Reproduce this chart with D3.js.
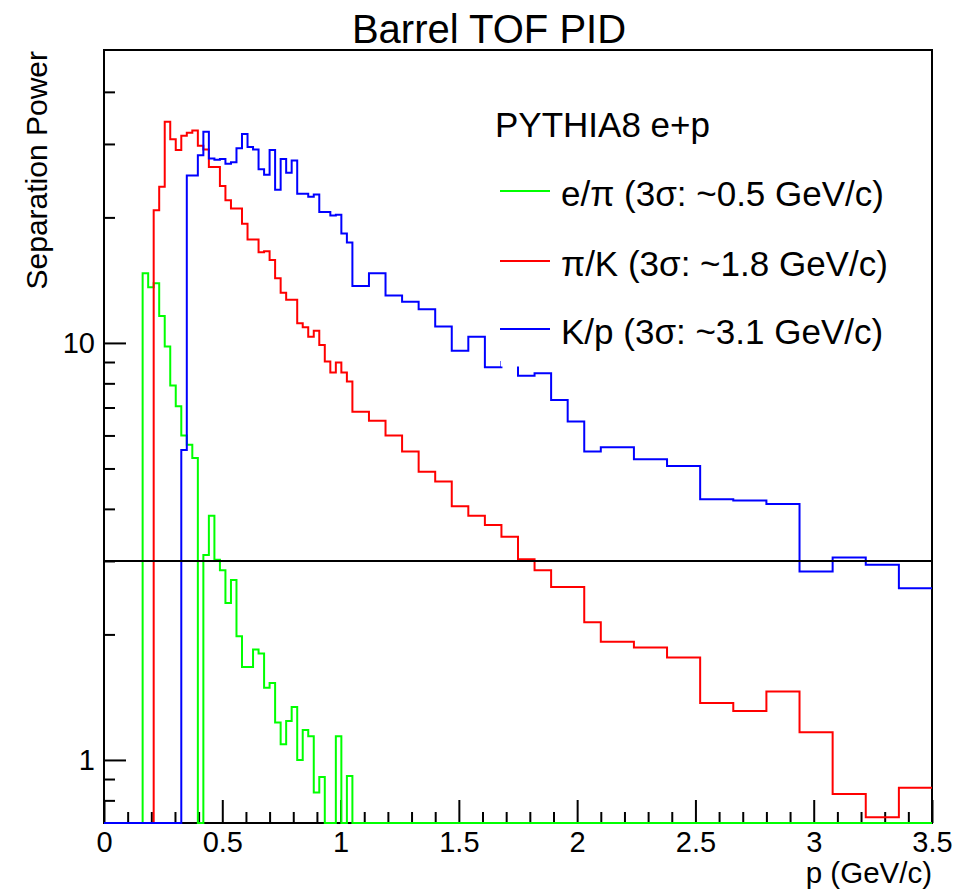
<!DOCTYPE html>
<html>
<head>
<meta charset="utf-8">
<script src="https://cdn.jsdelivr.net/npm/d3@7"></script>
<style>
  html, body { margin: 0; padding: 0; background: #fff; }
  svg { display: block; font-family: "Liberation Sans", Arial, Helvetica, sans-serif; }
</style>
</head>
<body>
<svg id="chart" width="958" height="892"></svg>
<script>
// ---- data ----
const binEdges = [
  0, 0.0233, 0.0467, 0.07, 0.0933, 0.1167, 0.14, 0.1633, 0.1867, 0.21,
  0.2333, 0.2567, 0.28, 0.3033, 0.3267, 0.35, 0.3733, 0.3967, 0.42, 0.4433,
  0.4667, 0.49, 0.5133, 0.5367, 0.56, 0.5833, 0.6067, 0.63, 0.6533, 0.6767,
  0.7, 0.7233, 0.7467, 0.77, 0.7933, 0.8167, 0.84, 0.8633, 0.8867, 0.91,
  0.9333, 0.9567, 0.98, 1.0033, 1.0267, 1.05,
  1.12, 1.19, 1.26, 1.33, 1.40, 1.47, 1.54, 1.61, 1.68, 1.75, 1.82, 1.89, 1.96, 2.03, 2.10,
  2.24, 2.38, 2.52, 2.66, 2.80, 2.94, 3.08, 3.22, 3.36, 3.50
];

const ePiValues = [
  0, 0, 0, 0, 0, 0, 0, 14.7, 13.6, 13.9,
  11.6, 9.8, 7.9, 7.05, 6.0, 5.7, 5.3, 0, 3.1, 3.85,
  3.02, 2.85, 2.38, 2.70, 1.98, 1.67, 1.67, 1.84, 1.80, 1.49,
  1.53, 1.23, 1.09, 1.24, 1.34, 1.0, 1.18, 1.14, 0.835, 0.91,
  0, 0, 1.14, 0, 0.915,
  0, 0, 0, 0, 0, 0, 0, 0, 0, 0, 0, 0, 0, 0, 0,
  0, 0, 0, 0, 0, 0, 0, 0, 0, 0
];

const piKValues = [
  0, 0, 0, 0, 0, 0, 0, 0, 0, 20.8,
  23.7, 33.9, 30.8, 29.0, 31.4, 31.9, 32.3, 29.7, 29.1, 26.4,
  26.4, 23.8, 22.0, 21.0, 21.0, 19.3, 17.7, 17.7, 16.5, 16.6,
  15.8, 14.3, 13.2, 12.7, 12.7, 11.15, 10.9, 10.35, 10.7, 9.89,
  9.02, 8.49, 8.97, 8.49, 8.08,
  6.84, 6.51, 6.0, 5.49, 4.91, 4.65, 4.06, 3.85, 3.66, 3.43, 3.03, 2.85, 2.60, 2.60, 2.14,
  1.92, 1.86, 1.76, 1.37, 1.31, 1.46, 1.165, 0.829, 0.729, 0.858
];

const kPValues = [
  0, 0, 0, 0, 0, 0, 0, 0, 0, 0,
  0, 0, 0, 0, 5.54, 25.2, 25.2, 28.2, 32.1, 27.7,
  27.5, 27.6, 26.9, 27.1, 29.3, 31.7, 29.5, 29.1, 26.1, 25.3,
  29.0, 23.3, 27.6, 25.6, 27.4, 22.8, 22.8, 22.4, 22.7, 20.6,
  20.6, 20.2, 20.3, 18.3, 17.4,
  13.7, 14.7, 13.0, 12.56, 12.04, 10.95, 9.58, 10.35, 8.74, 9.0, 8.34, 8.46, 7.30, 6.48, 5.49,
  5.62, 5.26, 5.07, 4.22, 4.19, 4.11, 2.83, 3.06, 2.94, 2.58
];

const seriesNames = ["e/\u03c0 (3\u03c3: ~0.5 GeV/c)", "\u03c0/K (3\u03c3: ~1.8 GeV/c)", "K/p (3\u03c3: ~3.1 GeV/c)"];
const seriesColors = ["#00ff00", "#ff0000", "#0000ff"];
const xMajorTicks = [0, 0.5, 1, 1.5, 2, 2.5, 3, 3.5];
const xMinorTicks = [0.1,0.2,0.3,0.4,0.6,0.7,0.8,0.9,1.1,1.2,1.3,1.4,1.6,1.7,1.8,1.9,2.1,2.2,2.3,2.4,2.6,2.7,2.8,2.9,3.1,3.2,3.3,3.4];
const yMajorTicks = [1, 10];
const yMinorTicks = [0.8, 0.9, 2, 3, 4, 5, 6, 7, 8, 9, 20, 30, 40];
const threshold = 3;
const titleText = "Barrel TOF PID";
const xTitle = "p (GeV/c)";
const yTitle = "Separation Power";
const legendHeader = "PYTHIA8 e+p";

// ---- layout ----
const L = 104, R = 932, T = 50, B = 823;
const svg = d3.select("#chart");
const FONT = '"Liberation Sans", Arial, Helvetica, sans-serif';

const x = d3.scaleLinear().domain([0, 3.5]).range([L, R]);
const y = d3.scaleLog().domain([0.706, 50.4]).range([B, T]);

// title
svg.append("text").attr("x", 489).attr("y", 43).attr("text-anchor", "middle")
  .attr("font-size", 40).attr("fill", "#000").text(titleText);

// axes
function styleAxis(g) {
  g.select(".domain").remove();
  g.selectAll("line").attr("stroke", "#000").attr("stroke-width", 2);
  g.selectAll("text").attr("font-family", FONT).attr("fill", "#000");
}
svg.append("g").attr("transform", `translate(0,${B})`)
  .call(d3.axisBottom(x).tickValues(xMajorTicks).tickSize(-23).tickPadding(8.5).tickFormat(d3.format("")))
  .call(styleAxis).call(g => g.selectAll("text").attr("font-size", 29));
svg.append("g").attr("transform", `translate(0,${B})`)
  .call(d3.axisBottom(x).tickValues(xMinorTicks).tickSize(-11).tickFormat(""))
  .call(styleAxis);
svg.append("g").attr("transform", `translate(${L},0)`)
  .call(d3.axisLeft(y).tickValues(yMajorTicks).tickSize(-22).tickPadding(9).tickFormat(d3.format("")))
  .call(styleAxis).call(g => g.selectAll("text").attr("font-size", 29));
svg.append("g").attr("transform", `translate(${L},0)`)
  .call(d3.axisLeft(y).tickValues(yMinorTicks).tickSize(-11).tickFormat(""))
  .call(styleAxis);

// frame
svg.append("rect").attr("x", L).attr("y", T).attr("width", R - L).attr("height", B - T)
  .attr("fill", "none").attr("stroke", "#000").attr("stroke-width", 2);

// axis titles
svg.append("text").attr("x", R).attr("y", 883).attr("text-anchor", "end")
  .attr("font-size", 29.5).attr("fill", "#000").text(xTitle);
svg.append("text").attr("transform", `translate(47,51) rotate(-90)`).attr("text-anchor", "end")
  .attr("font-size", 30).attr("fill", "#000").text(yTitle);

// histograms (step outlines)
const [yMin, yMax] = y.domain();
function clampV(v) { return v <= yMin ? yMin : (v >= yMax ? yMax : v); }
function stepPoints(vals) {
  const pts = [];
  vals.forEach((v, i) => {
    pts.push([binEdges[i], clampV(v)]);
    pts.push([binEdges[i + 1], clampV(v)]);
  });
  return pts;
}
const line = d3.line().x(d => x(d[0])).y(d => y(d[1]));
[ePiValues, piKValues, kPValues].forEach((vals, i) => {
  svg.append("path").attr("d", line(stepPoints(vals)))
    .attr("fill", "none").attr("stroke", seriesColors[i]).attr("stroke-width", 2)
    .attr("stroke-linejoin", "miter");
});

// 3 sigma line
svg.append("line").attr("x1", x(0)).attr("x2", x(3.5)).attr("y1", y(threshold)).attr("y2", y(threshold))
  .attr("stroke", "#000").attr("stroke-width", 2);

// legend (white box, no border)
svg.append("rect").attr("x", 501).attr("y", 96).attr("width", 405).attr("height", 270.5).attr("fill", "#fff");
svg.append("text").attr("x", 495).attr("y", 137).attr("font-size", 35).attr("fill", "#000").text(legendHeader);
const legY = [191, 261, 329];
seriesNames.forEach((name, i) => {
  svg.append("line").attr("x1", 500).attr("x2", 550).attr("y1", legY[i]).attr("y2", legY[i])
    .attr("stroke", seriesColors[i]).attr("stroke-width", 2);
  svg.append("text").attr("x", 561).attr("y", legY[i] + 15).attr("font-size", 35).attr("fill", "#000").text(name);
});
</script>
</body>
</html>
